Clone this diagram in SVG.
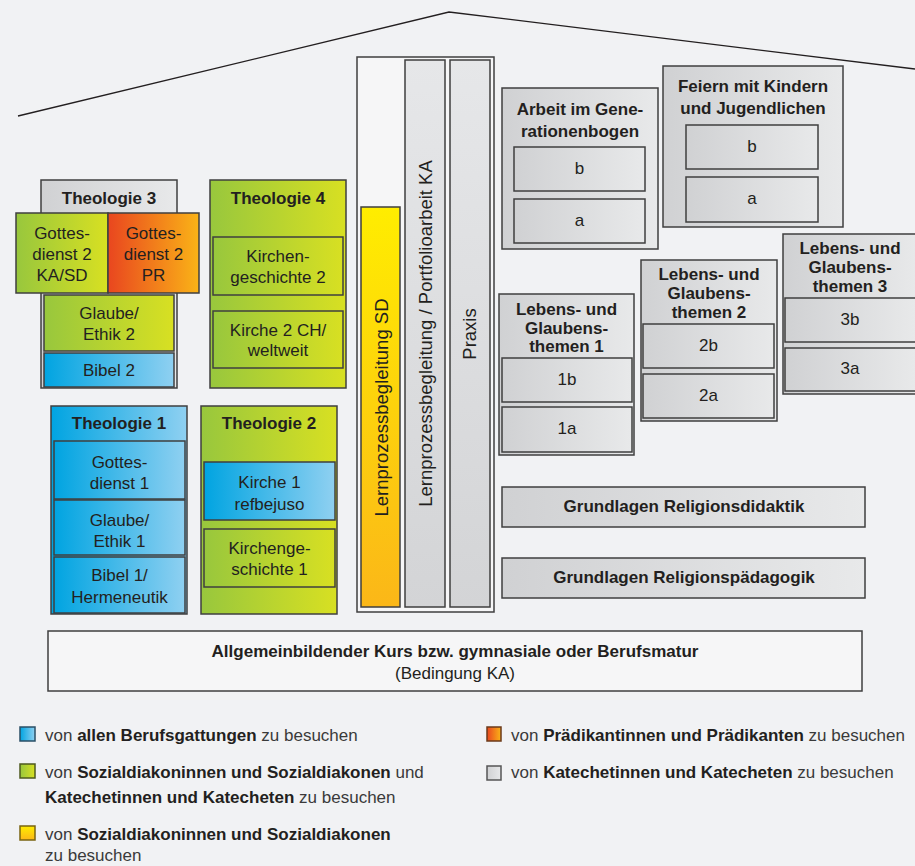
<svg xmlns="http://www.w3.org/2000/svg" width="915" height="866" viewBox="0 0 915 866">
<defs>
<linearGradient id="gBlue"><stop offset="0" stop-color="#00a4e1"/><stop offset="1" stop-color="#8fd0f1"/></linearGradient>
<linearGradient id="gGreen"><stop offset="0" stop-color="#98c73d"/><stop offset="1" stop-color="#d8e022"/></linearGradient>
<linearGradient id="gOrange"><stop offset="0" stop-color="#e9461f"/><stop offset="1" stop-color="#fab317"/></linearGradient>
<linearGradient id="gYellow" x1="0" y1="0" x2="0" y2="1"><stop offset="0" stop-color="#ffed00"/><stop offset="1" stop-color="#fbb718"/></linearGradient>
<linearGradient id="gGray"><stop offset="0" stop-color="#d0d1d3"/><stop offset="1" stop-color="#e8e9ea"/></linearGradient>
<linearGradient id="gGrayV" x1="0" y1="0" x2="0" y2="1"><stop offset="0" stop-color="#e6e7e9"/><stop offset="1" stop-color="#d3d4d6"/></linearGradient>
</defs>
<style>
.bx{stroke:#3f3f3f;stroke-width:1.5}
.blue{fill:url(#gBlue)}
.green{fill:url(#gGreen)}
.orange{fill:url(#gOrange)}
.yellow{fill:url(#gYellow)}
.gray{fill:url(#gGray)}
.grayv{fill:url(#gGrayV)}
.pale{fill:#f6f6f7}
text{font-family:"Liberation Sans",Arial,Helvetica,sans-serif;fill:#231f20}
.t{font-size:17px;text-anchor:middle}
.h{font-weight:bold}
.v{font-size:18.5px;text-anchor:middle}
.lg{font-size:17px;fill:#3a3a3a}
.lg tspan.k{font-weight:bold;fill:#231f20}
</style>
<rect x="0" y="0" width="915" height="866" fill="#f1f2f4"/>
<g id="roof"><polyline points="18,116 449,12 915,69" fill="none" stroke="#231f20" stroke-width="1.3"/></g>
<g id="connectors"></g>

<g id="theologie3">
<rect class="bx gray" x="41" y="180" width="136" height="208"/>
<text class="t h" x="109" y="204">Theologie 3</text>
</g>
<g id="gottesdienst2-kasd">
<rect class="bx green" x="16" y="213" width="92" height="80"/>
<text class="t" x="62" y="239">Gottes-</text><text class="t" x="62" y="260">dienst 2</text><text class="t" x="62" y="281">KA/SD</text>
</g>
<g id="gottesdienst2-pr">
<rect class="bx orange" x="108" y="213" width="91" height="80"/>
<text class="t" x="153.5" y="239">Gottes-</text><text class="t" x="153.5" y="260">dienst 2</text><text class="t" x="153.5" y="281">PR</text>
</g>
<g id="glaube-ethik2">
<rect class="bx green" x="44" y="295" width="130" height="56"/>
<text class="t" x="109" y="319">Glaube/</text><text class="t" x="109" y="340">Ethik 2</text>
</g>
<g id="bibel2">
<rect class="bx blue" x="44" y="353" width="130" height="34"/>
<text class="t" x="109" y="376">Bibel 2</text>
</g>

<g id="theologie4">
<rect class="bx green" x="210" y="180" width="136" height="208"/>
<text class="t h" x="278" y="204">Theologie 4</text>
</g>
<g id="kirchengeschichte2">
<rect class="bx green" x="213" y="237" width="130" height="58"/>
<text class="t" x="278" y="262">Kirchen-</text><text class="t" x="278" y="283">geschichte 2</text>
</g>
<g id="kirche2">
<rect class="bx green" x="213" y="311" width="130" height="57"/>
<text class="t" x="278" y="336">Kirche 2 CH/</text><text class="t" x="278" y="356">weltweit</text>
</g>

<g id="theologie1">
<rect class="bx blue" x="51" y="406" width="136" height="208"/>
<text class="t h" x="119" y="429">Theologie 1</text>
</g>
<g id="gottesdienst1">
<rect class="bx blue" x="54" y="441" width="131" height="58"/>
<text class="t" x="119.5" y="468">Gottes-</text><text class="t" x="119.5" y="489">dienst 1</text>
</g>
<g id="glaube-ethik1">
<rect class="bx blue" x="54" y="500" width="131" height="55"/>
<text class="t" x="119.5" y="526">Glaube/</text><text class="t" x="119.5" y="547">Ethik 1</text>
</g>
<g id="bibel1">
<rect class="bx blue" x="54" y="557" width="131" height="56"/>
<text class="t" x="119.5" y="581">Bibel 1/</text><text class="t" x="119.5" y="603">Hermeneutik</text>
</g>

<g id="theologie2">
<rect class="bx green" x="201" y="406" width="136" height="208"/>
<text class="t h" x="269" y="429">Theologie 2</text>
</g>
<g id="kirche1">
<rect class="bx blue" x="204" y="462" width="131" height="58"/>
<text class="t" x="269.5" y="488">Kirche 1</text><text class="t" x="269.5" y="510">refbejuso</text>
</g>
<g id="kirchengeschichte1">
<rect class="bx green" x="204" y="529" width="131" height="58"/>
<text class="t" x="269.5" y="554">Kirchenge-</text><text class="t" x="269.5" y="575">schichte 1</text>
</g>

<g id="begleitung">
<rect class="bx pale" x="357" y="57" width="137" height="555"/>
</g>
<g id="lernprozess-sd">
<rect class="bx yellow" x="361" y="207" width="39" height="400"/>
<text class="v" transform="translate(388,407.5) rotate(-90)">Lernprozessbegleitung SD</text>
</g>
<g id="lernprozess-ka">
<rect class="bx grayv" x="405" y="60" width="40" height="547"/>
<text class="v" transform="translate(432,333.5) rotate(-90)">Lernprozessbegleitung / Portfolioarbeit KA</text>
</g>
<g id="praxis">
<rect class="bx grayv" x="450" y="60" width="40" height="547"/>
<text class="v" transform="translate(476,334) rotate(-90)">Praxis</text>
</g>

<g id="generationenbogen">
<rect class="bx gray" x="502" y="88" width="156" height="161"/>
<text class="t h" x="580" y="115">Arbeit im Gene-</text><text class="t h" x="580" y="137">rationenbogen</text>
<rect class="bx gray" x="514" y="147" width="131" height="44"/><text class="t" x="579.5" y="174">b</text>
<rect class="bx gray" x="514" y="199" width="131" height="44"/><text class="t" x="579.5" y="226">a</text>
</g>
<g id="feiern">
<rect class="bx gray" x="663" y="66" width="180" height="161"/>
<text class="t h" x="753" y="92">Feiern mit Kindern</text><text class="t h" x="753" y="114">und Jugendlichen</text>
<rect class="bx gray" x="686" y="125" width="132" height="44"/><text class="t" x="752" y="152">b</text>
<rect class="bx gray" x="686" y="177" width="132" height="45"/><text class="t" x="752" y="204">a</text>
</g>
<g id="lebensthemen1">
<rect class="bx gray" x="499" y="294" width="135" height="161"/>
<text class="t h" x="566.5" y="315">Lebens- und</text><text class="t h" x="566.5" y="334">Glaubens-</text><text class="t h" x="566.5" y="352">themen 1</text>
<rect class="bx gray" x="502" y="358" width="130" height="44"/><text class="t" x="567" y="385">1b</text>
<rect class="bx gray" x="502" y="407" width="130" height="45"/><text class="t" x="567" y="434">1a</text>
</g>
<g id="lebensthemen2">
<rect class="bx gray" x="641" y="260" width="136" height="161"/>
<text class="t h" x="709" y="280">Lebens- und</text><text class="t h" x="709" y="299">Glaubens-</text><text class="t h" x="709" y="318">themen 2</text>
<rect class="bx gray" x="643" y="324" width="131" height="44"/><text class="t" x="708.5" y="351">2b</text>
<rect class="bx gray" x="643" y="374" width="131" height="44"/><text class="t" x="708.5" y="401">2a</text>
</g>
<g id="lebensthemen3">
<rect class="bx gray" x="783" y="234" width="135" height="160"/>
<text class="t h" x="850" y="254">Lebens- und</text><text class="t h" x="850" y="273">Glaubens-</text><text class="t h" x="850" y="292">themen 3</text>
<rect class="bx gray" x="785" y="298" width="131" height="44"/><text class="t" x="850" y="325">3b</text>
<rect class="bx gray" x="785" y="348" width="131" height="43"/><text class="t" x="850" y="374">3a</text>
</g>

<g id="religionsdidaktik">
<rect class="bx gray" x="502" y="487" width="363" height="40"/>
<text class="t h" x="684" y="512">Grundlagen Religionsdidaktik</text>
</g>
<g id="religionspaedagogik">
<rect class="bx gray" x="502" y="558" width="363" height="40"/>
<text class="t h" x="684" y="583">Grundlagen Religionspädagogik</text>
</g>
<g id="allgemeinbildung">
<rect class="bx pale" x="48" y="631" width="814" height="60"/>
<text class="t h" x="455" y="657">Allgemeinbildender Kurs bzw. gymnasiale oder Berufsmatur</text>
<text class="t" x="455" y="679">(Bedingung KA)</text>
</g>

<g id="legend">
<rect x="20" y="727" width="15" height="14" fill="url(#gBlue)" stroke="#2a4f66" stroke-width="1.5"/>
<text class="lg" x="45" y="741">von <tspan class="k">allen Berufsgattungen</tspan> zu besuchen</text>
<rect x="20" y="764" width="15" height="14" fill="url(#gGreen)" stroke="#4d5a1e" stroke-width="1.5"/>
<text class="lg" x="45" y="778">von <tspan class="k">Sozialdiakoninnen und Sozialdiakonen</tspan> und</text>
<text class="lg" x="45" y="803"><tspan class="k">Katechetinnen und Katecheten</tspan> zu besuchen</text>
<rect x="20" y="826" width="15" height="14" fill="url(#gYellow)" stroke="#7a6410" stroke-width="1.5"/>
<text class="lg" x="45" y="840">von <tspan class="k">Sozialdiakoninnen und Sozialdiakonen</tspan></text>
<text class="lg" x="45" y="861">zu besuchen</text>
<rect x="487" y="727" width="14" height="14" fill="url(#gOrange)" stroke="#6b3a1a" stroke-width="1.5"/>
<text class="lg" x="511" y="741">von <tspan class="k">Prädikantinnen und Prädikanten</tspan> zu besuchen</text>
<rect x="487" y="766" width="14" height="14" fill="url(#gGray)" stroke="#555" stroke-width="1.5"/>
<text class="lg" x="511" y="778">von <tspan class="k">Katechetinnen und Katecheten</tspan> zu besuchen</text>
</g>
</svg>
